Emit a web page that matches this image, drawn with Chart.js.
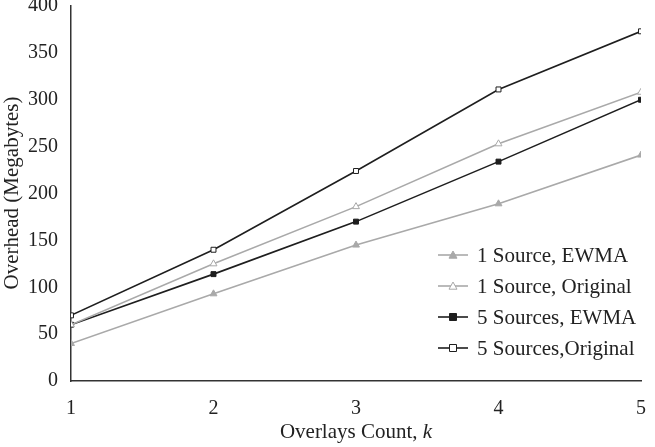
<!DOCTYPE html>
<html><head><meta charset="utf-8">
<script src="https://cdn.jsdelivr.net/npm/chart.js@4/dist/chart.umd.min.js"></script>
<style>html,body{margin:0;padding:0;background:#fff}#wrap{width:655px;height:447px}</style>
</head><body><div id="wrap"><canvas id="c" width="655" height="447"></canvas></div>
<script>
const overlays = [1, 2, 3, 4, 5];
const oneSrcEwma = [40, 93, 145, 189, 241];
const oneSrcOrig = [60, 125, 186, 253, 308];
const fiveSrcEwma = [60, 114, 170, 234, 300];
const fiveSrcOrig = [70, 140, 224, 311, 373];
const yTicks = [0, 50, 100, 150, 200, 250, 300, 350, 400];
const seriesLabels = ['1 Source, EWMA', '1 Source, Original', '5 Sources, EWMA', '5 Sources,Original'];
const xTitle = 'Overlays Count, ';
const xTitleItalic = 'k';
const yTitle = 'Overhead (Megabytes)';

const FONT = "'Liberation Serif', 'Times New Roman', serif";
const GREY = '#a9a9a9', BLACK = '#1e1e1e';
const pts = arr => arr.map((v, i) => ({x: overlays[i], y: v}));

function drawMarker(ctx, style, x, y, r, fill, stroke) {
  ctx.save();
  ctx.fillStyle = fill; ctx.strokeStyle = stroke; ctx.lineWidth = 1;
  ctx.beginPath();
  if (style === 'triangle') {
    ctx.moveTo(x, y - r); ctx.lineTo(x + r, y + r * 0.8); ctx.lineTo(x - r, y + r * 0.8); ctx.closePath();
  } else {
    ctx.rect(x - r, y - r, 2 * r, 2 * r);
  }
  ctx.fill(); ctx.stroke();
  ctx.restore();
}

const legendPlugin = {
  id: 'customLegend',
  afterDraw(chart) {
    const ctx = chart.ctx;
    const x0 = 438, x1 = 468, tx = 477;
    const ys = [255, 286, 317, 348];
    ctx.save();
    chart.data.datasets.forEach((ds, i) => {
      const y = ys[i];
      ctx.strokeStyle = ds.borderColor; ctx.lineWidth = 1.6;
      ctx.beginPath(); ctx.moveTo(x0, y); ctx.lineTo(x1, y); ctx.stroke();
      drawMarker(ctx, ds.pointStyle, (x0 + x1) / 2, y, ds.pointRadius, ds.pointBackgroundColor, ds.pointBorderColor);
      ctx.fillStyle = '#222';
      ctx.font = "21px " + FONT;
      ctx.textBaseline = 'middle'; ctx.textAlign = 'left';
      ctx.fillText(ds.label, tx, y + 1);
    });
    ctx.fillStyle = '#222';
    const a = chart.chartArea;
    const cx = (a.left + a.right) / 2;
    ctx.textBaseline = 'middle';
    ctx.font = "21px " + FONT;
    const w1 = ctx.measureText(xTitle).width;
    ctx.font = "italic 21px " + FONT;
    const w2 = ctx.measureText(xTitleItalic).width;
    const sx = cx - (w1 + w2) / 2;
    ctx.font = "21px " + FONT; ctx.textAlign = 'left';
    ctx.fillText(xTitle, sx, 432);
    ctx.font = "italic 21px " + FONT;
    ctx.fillText(xTitleItalic, sx + w1, 432);
    ctx.font = "21px " + FONT;
    ctx.translate(12, 193);
    ctx.rotate(-Math.PI / 2);
    ctx.textAlign = 'center';
    ctx.fillText(yTitle, 0, 0);
    ctx.restore();
  }
};

const mk = (label, data, line, fill, stroke, style, r) => ({
  label, data: pts(data), borderColor: line, borderWidth: 1.6,
  pointStyle: style, pointRadius: r, pointHoverRadius: r,
  pointBackgroundColor: fill, pointBorderColor: stroke, pointBorderWidth: 1,
  tension: 0, fill: false
});

new Chart(document.getElementById('c'), {
  type: 'line',
  data: {
    datasets: [
      mk(seriesLabels[0], oneSrcEwma, GREY, GREY, GREY, 'triangle', 4),
      mk(seriesLabels[1], oneSrcOrig, GREY, '#fff', GREY, 'triangle', 4),
      mk(seriesLabels[2], fiveSrcEwma, BLACK, BLACK, BLACK, 'rect', 3.5),
      mk(seriesLabels[3], fiveSrcOrig, BLACK, '#fff', BLACK, 'rect', 3.5)
    ]
  },
  options: {
    responsive: false, animation: false, devicePixelRatio: 1,
    layout: {padding: {top: 6, right: 14, left: 0, bottom: 0}},
    plugins: {legend: {display: false}, tooltip: {enabled: false}},
    scales: {
      x: {
        type: 'linear', min: 1, max: 5,
        afterBuildTicks: s => { s.ticks = overlays.map(v => ({value: v})); },
        afterFit: s => { s.height = 66; s.paddingLeft = 0; s.paddingRight = 0; },
        grid: {display: false, drawTicks: true, tickLength: 5, color: '#333'},
        border: {display: true, color: '#333', width: 1.5},
        ticks: {color: '#222', font: {family: FONT, size: 20}, padding: 11, maxRotation: 0},
      },
      y: {
        min: 0, max: 400,
        afterBuildTicks: s => { s.ticks = yTicks.map(v => ({value: v})); },
        afterFit: s => { s.width = 71; s.paddingTop = 0; s.paddingBottom = 0; },
        grid: {display: false, drawTicks: true, tickLength: 5, color: '#333'},
        border: {display: true, color: '#333', width: 1.5},
        ticks: {color: '#222', font: {family: FONT, size: 20}, padding: 8},
      }
    }
  },
  plugins: [legendPlugin]
});
</script></body></html>
